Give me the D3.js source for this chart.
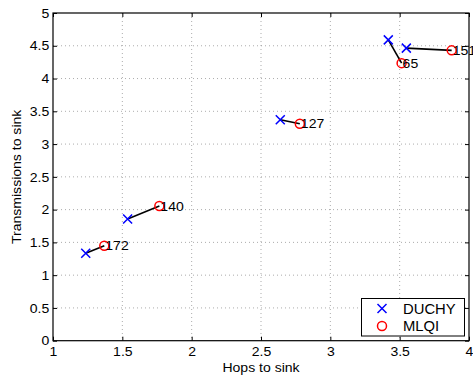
<!DOCTYPE html>
<html><head><meta charset="utf-8">
<script src="https://cdn.jsdelivr.net/npm/d3@7"></script>
<style>body{margin:0;background:#fff}svg{display:block}text{font-family:"Liberation Sans",Arial,sans-serif}</style>
</head><body><svg id="c" width="473" height="378"></svg>
<script>
const labels = ["172","140","127","65","151"];
const duchyX = [1.236,1.538,2.639,3.418,3.548];
const duchyY = [1.334,1.858,3.37,4.59,4.464];
const mlqiX = [1.37,1.767,2.78,3.514,3.875];
const mlqiY = [1.45,2.056,3.31,4.235,4.43];
const xTicks = [1,1.5,2,2.5,3,3.5,4];
const yTicks = [0,0.5,1,1.5,2,2.5,3,3.5,4,4.5,5];

const svg = d3.select("#c");
const L=53,R=469,T=13,B=340.7;
const FS=13, SX=1.08;
const x = d3.scaleLinear().domain([1,4]).range([L,R]);
const y = d3.scaleLinear().domain([0,5]).range([B,T]);

// grid
const g = svg.append("g");
g.selectAll(".gx").data(xTicks.slice(1,-1)).enter().append("line")
 .attr("x1",d=>x(d)).attr("x2",d=>x(d)).attr("y1",T).attr("y2",B)
 .attr("stroke","#888").attr("stroke-width",0.7).attr("stroke-dasharray","1,3");
g.selectAll(".gy").data(yTicks.slice(1,-1)).enter().append("line")
 .attr("y1",d=>y(d)).attr("y2",d=>y(d)).attr("x1",L).attr("x2",R)
 .attr("stroke","#888").attr("stroke-width",0.7).attr("stroke-dasharray","1,3");

// axes
const fmt = d=>String(d);
svg.append("g").attr("transform",`translate(0,${B})`)
 .call(d3.axisBottom(x).tickValues(xTicks).tickFormat(fmt).tickSizeInner(-4).tickSizeOuter(0).tickPadding(6))
 .call(a=>{a.select(".domain").remove();});
svg.append("g").attr("transform",`translate(0,${T})`)
 .call(d3.axisTop(x).tickValues(xTicks).tickFormat("").tickSizeInner(-4).tickSizeOuter(0))
 .call(a=>{a.select(".domain").remove();});
svg.append("g").attr("transform",`translate(${L},0)`)
 .call(d3.axisLeft(y).tickValues(yTicks).tickFormat(fmt).tickSizeInner(-4).tickSizeOuter(0).tickPadding(3.5))
 .call(a=>{a.select(".domain").remove();});
svg.append("g").attr("transform",`translate(${R},0)`)
 .call(d3.axisRight(y).tickValues(yTicks).tickFormat("").tickSizeInner(-4).tickSizeOuter(0))
 .call(a=>{a.select(".domain").remove();});
svg.selectAll(".tick text").attr("font-size",FS).attr("fill","#000").attr("transform",`scale(${SX},1)`);
svg.selectAll(".tick line").attr("stroke","#000");
svg.append("rect").attr("x",L).attr("y",T).attr("width",R-L).attr("height",B-T)
 .attr("fill","none").attr("stroke","#000").attr("stroke-width",1.2);

// axis labels
svg.append("text").attr("transform",`translate(${(L+R)/2},371.5) scale(${SX},1)`).attr("text-anchor","middle").attr("font-size",FS).text("Hops to sink");
svg.append("text").attr("transform",`translate(20.5,${(T+B)/2}) rotate(-90) scale(${SX},1)`).attr("text-anchor","middle").attr("font-size",FS).text("Transmissions to sink");

// connecting lines
const idx = d3.range(labels.length);
svg.selectAll(".conn").data(idx).enter().append("line")
 .attr("x1",i=>x(duchyX[i])).attr("y1",i=>y(duchyY[i]))
 .attr("x2",i=>x(mlqiX[i])).attr("y2",i=>y(mlqiY[i]))
 .attr("stroke","#000").attr("stroke-width",1.6);

// DUCHY x markers
const s=4.5;
const cross = (sel,cx,cy)=>{
  sel.append("path").attr("d",`M${cx-s},${cy-s}L${cx+s},${cy+s}M${cx-s},${cy+s}L${cx+s},${cy-s}`)
   .attr("stroke","#0000ff").attr("stroke-width",1.5).attr("fill","none");
};
idx.forEach(i=>cross(svg,x(duchyX[i]),y(duchyY[i])));
// MLQI circles
svg.selectAll(".m").data(idx).enter().append("circle")
 .attr("cx",i=>x(mlqiX[i])).attr("cy",i=>y(mlqiY[i])).attr("r",4.5)
 .attr("fill","none").attr("stroke","#ff0000").attr("stroke-width",1.5);

// labels
svg.selectAll(".lab").data(idx).enter().append("text")
 .attr("transform",i=>`translate(${x(mlqiX[i])+1},${y(mlqiY[i])}) scale(${SX},1)`).attr("dy","0.36em")
 .attr("font-size",FS).text(i=>labels[i]);

// legend
const lg = svg.append("g");
lg.append("rect").attr("x",361.5).attr("y",298.5).attr("width",103).attr("height",37.5)
 .attr("fill","#fff").attr("stroke","#000").attr("stroke-width",1);
cross(lg,382,308.5);
lg.append("circle").attr("cx",382).attr("cy",326).attr("r",4.5).attr("fill","none").attr("stroke","#ff0000").attr("stroke-width",1.5);
lg.append("text").attr("transform",`translate(403,308.5) scale(1.06,1)`).attr("dy","0.36em").attr("font-size",14).text("DUCHY");
lg.append("text").attr("transform",`translate(403,326) scale(1.06,1)`).attr("dy","0.36em").attr("font-size",14).text("MLQI");
</script></body></html>
